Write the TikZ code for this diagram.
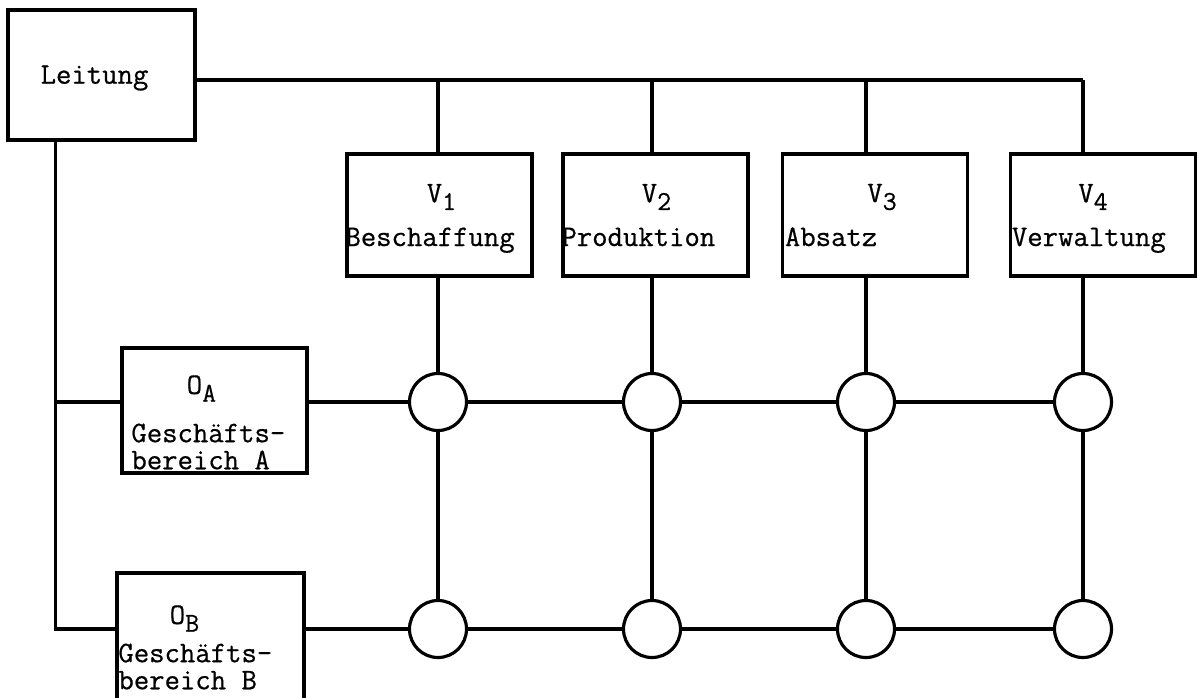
\documentclass[tikz,border=0pt]{standalone}
\usepackage{fontspec}
\usetikzlibrary{calc}
\newfontfamily\schriftfam{Latin Modern Mono}[FakeBold=0.6]
\newcommand{\schrift}{\schriftfam\fontsize{17}{15.4}\selectfont}
\newcommand{\idx}[2]{#1\raisebox{-0.6ex}{\fontsize{15.5}{15.5}\selectfont #2}}
\tikzset{
  box/.style        = {draw, line width=2.2pt, minimum width=3.7cm, minimum height=2.44cm, inner sep=0pt},
  knot/.style       = {draw, line width=1.8pt, circle, fill=white, minimum size=1.14cm, inner sep=0pt},
  wire/.style       = {line width=1.8pt},
  every node/.style = {font=\schrift},
  lbl/.style        = {inner sep=0pt, align=left},
}
\begin{document}
\begin{tikzpicture}[x=0.02cm, y=-0.02cm]
  \useasboundingbox (0,0) rectangle (1197,697);
  \node[box, minimum width=3.74cm, minimum height=2.6cm] (leitung) at (101.5,75) {};
  \node[lbl] at ($(leitung)+(-7,3)$) {Leitung};
  \node[box] (v1) at (439.5,215) {};
  \node[box] (v2) at (655.5,215) {};
  \node[box] (v3) at (875,215) {};
  \node[box] (v4) at (1103,215) {};
  \node[lbl] at ($(v1)+(2,-18)$) {\idx{V}{1}};
  \node[lbl] at ($(v2)+(1,-18)$) {\idx{V}{2}};
  \node[lbl] at ($(v3)+(7,-18)$) {\idx{V}{3}};
  \node[lbl] at ($(v4)+(-10,-18)$) {\idx{V}{4}};
  \node[lbl, anchor=base west] at ($(v1.west)+(0,31)$) {Beschaffung};
  \node[lbl, anchor=base west] at ($(v2.west)+(0,31)$) {Produktion};
  \node[lbl, anchor=base west] at ($(v3.west)+(4,31)$) {Absatz};
  \node[lbl, anchor=base west] at ($(v4.west)+(3,31)$) {Verwaltung};
  \node[box, minimum height=2.5cm] (oa) at (214.5,410.5) {};
  \node[box, minimum width=3.74cm, minimum height=2.54cm] (ob) at (210.5,636.5) {};
  \node[lbl] at ($(oa)+(-13,-22)$) {\idx{O}{A}};
  \node[lbl, anchor=west] at ($(oa.west)+(11,36)$) {Geschäfts-\\bereich A};
  \node[lbl] at ($(ob)+(-26,-18)$) {\idx{O}{B}};
  \node[lbl, anchor=west] at ($(ob.west)+(3,30)$) {Geschäfts-\\bereich B};
  \node[knot] (a1) at (438,402) {};
  \node[knot] (a2) at (652,402) {};
  \node[knot] (a3) at (866,402) {};
  \node[knot] (a4) at (1083,402) {};
  \node[knot] (b1) at (438,629) {};
  \node[knot] (b2) at (652,629) {};
  \node[knot] (b3) at (866,629) {};
  \node[knot] (b4) at (1083,629) {};
  \coordinate (bus) at ($(leitung.east)+(0,5)$);
  \coordinate (t) at ($(leitung.south west)+(49,0)$);
  \draw[wire] (bus) -- (bus -| a4);
  \draw[wire] (bus -| a1) -- (a1 |- v1.north);
  \draw[wire] (bus -| a2) -- (a2 |- v2.north);
  \draw[wire] (bus -| a3) -- (a3 |- v3.north);
  \draw[wire] (bus -| a4) -- (a4 |- v4.north);
  \draw[wire] (a1 |- v1.south) -- (a1) -- (b1);
  \draw[wire] (a2 |- v2.south) -- (a2) -- (b2);
  \draw[wire] (a3 |- v3.south) -- (a3) -- (b3);
  \draw[wire] (a4 |- v4.south) -- (a4) -- (b4);
  \draw[wire] (t) |- (b1 -| ob.west);
  \draw[wire] (a1 -| t) -- (a1 -| oa.west);
  \draw[wire] (a1 -| oa.east) -- (a1) -- (a2) -- (a3) -- (a4);
  \draw[wire] (b1 -| ob.east) -- (b1) -- (b2) -- (b3) -- (b4);
\end{tikzpicture}
\end{document}
